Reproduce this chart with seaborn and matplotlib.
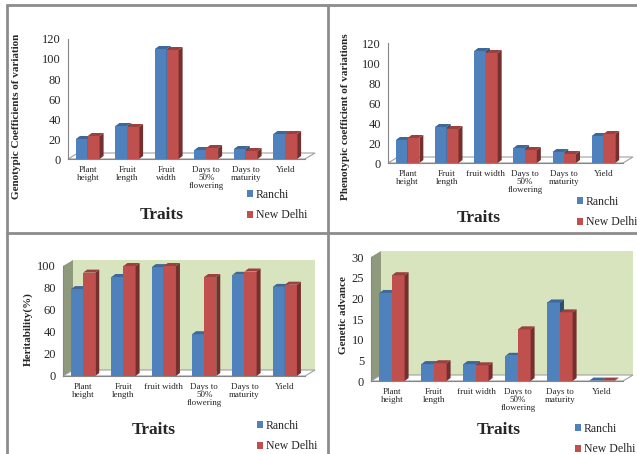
import numpy as np
import pandas as pd
import matplotlib
matplotlib.use("Agg")
import matplotlib.pyplot as plt
import seaborn as sns
import matplotlib.colors as mcolors
from matplotlib.patches import Polygon, Patch
from matplotlib.lines import Line2D

# data
locations = ["Ranchi", "New Delhi"]
traits_gcv = ["Plant\nheight", "Fruit\nlength", "Fruit\nwidth",
              "Days to\n50%\nflowering", "Days to\nmaturity", "Yield"]
traits = ["Plant\nheight", "Fruit\nlength", "fruit width",
          "Days to\n50%\nflowering", "Days to\nmaturity", "Yield"]

gcv_ranchi = [20, 33, 110, 9, 10, 25]
gcv_delhi = [23, 32, 109, 11, 8, 25]
pcv_ranchi = [23, 36, 112, 15, 11, 27]
pcv_delhi = [25, 34, 110, 13, 9, 29]
h2_ranchi = [79, 90, 99, 38, 92, 81]
h2_delhi = [94, 100, 100, 90, 95, 83]
ga_ranchi = [21.3, 4.1, 4.1, 6.1, 19.0, 0.1]
ga_delhi = [25.6, 4.3, 3.8, 12.5, 16.6, 0.1]

BLUE = "#4f81bd"
RED = "#c0504d"
palette = {"Ranchi": BLUE, "New Delhi": RED}
W, H = 637, 454
SERIF = "Liberation Serif"

sns.set_style("white")
plt.rcParams["font.family"] = [SERIF, "DejaVu Serif"]

fig = plt.figure(figsize=(W / 100, H / 100), dpi=100)


def shade(c, f):
    r, g, b = mcolors.to_rgb(c)
    return (r * f, g * f, b * f)


def px(x0, y0, x1, y1):
    # pixel box -> figure rect
    return [x0 / W, 1 - y1 / H, (x1 - x0) / W, (y1 - y0) / H]


def panel(rect, labels, ranchi, delhi, ymax, step, walls=False):
    ax = fig.add_axes(rect)
    df = pd.DataFrame({
        "trait": labels * 2,
        "location": ["Ranchi"] * len(labels) + ["New Delhi"] * len(labels),
        "value": ranchi + delhi,
    })
    sns.barplot(data=df, x="trait", y="value", hue="location", palette=palette,
                width=0.6, saturation=1, legend=False, linewidth=0, ax=ax)
    ax.set_xlim(-0.5, 5.5)
    ax.set_ylim(0, ymax)
    ax.patch.set_alpha(0)

    pos = ax.get_position()
    xpp = 6.0 / (pos.width * W)        # data x per pixel
    ypp = ymax / (pos.height * H)      # data y per pixel

    # depth faces for every bar
    bdx, bdy = 4 * xpp, 3 * ypp
    for bar in list(ax.patches):
        x, w, h = bar.get_x(), bar.get_width(), bar.get_height()
        fc = bar.get_facecolor()
        z = 3 if mcolors.to_hex(fc) == RED else 2
        bar.set_zorder(z)
        side = Polygon([(x + w, 0), (x + w + bdx, bdy), (x + w + bdx, h + bdy), (x + w, h)],
                       closed=True, fc=shade(fc, 0.6), ec="none", zorder=z, clip_on=False)
        top = Polygon([(x, h), (x + bdx, h + bdy), (x + w + bdx, h + bdy), (x + w, h)],
                      closed=True, fc=shade(fc, 0.8), ec="none", zorder=z, clip_on=False)
        ax.add_patch(side)
        ax.add_patch(top)

    # floor and walls
    fdx, fdy = 10 * xpp, 6 * ypp
    x0, x1 = -0.5, 5.5
    if walls:
        ax.add_patch(Polygon([(x0 + fdx, fdy), (x1 + fdx, fdy), (x1 + fdx, ymax + fdy), (x0 + fdx, ymax + fdy)],
                             closed=True, fc="#d7e4bd", ec="none", zorder=0.5, clip_on=False))
        ax.add_patch(Polygon([(x0, 0), (x0 + fdx, fdy), (x0 + fdx, ymax + fdy), (x0, ymax)],
                             closed=True, fc="#8f9a7c", ec="none", zorder=0.6, clip_on=False))
    ax.add_patch(Polygon([(x0, 0), (x1, 0), (x1 + fdx, fdy), (x0 + fdx, fdy)],
                         closed=True, fc="white", ec="#a0a0a0", lw=0.8, zorder=1, clip_on=False))

    sns.despine(ax=ax, top=True, right=True)
    for s in ("left", "bottom"):
        ax.spines[s].set_color("#868686")
        ax.spines[s].set_linewidth(0.8)
    ax.set_yticks(np.arange(0, ymax + 0.1, step))
    ax.tick_params(axis="y", labelsize=9, length=3, color="#868686", pad=2)
    ax.set_xticks(range(6))
    ax.set_xticklabels(labels, fontsize=6.5, linespacing=1.0)
    ax.set_xticks(np.arange(-0.5, 6, 1), minor=True)
    ax.tick_params(axis="x", which="major", length=0, pad=5)
    ax.tick_params(axis="x", which="minor", length=3, color="#868686")
    ax.set_xlabel("")
    ax.set_ylabel("")
    ax.grid(False)
    return ax


panel(px(68, 39, 305, 159), traits_gcv, gcv_ranchi, gcv_delhi, 120, 20)
panel(px(388, 43, 623, 163), traits, pcv_ranchi, pcv_delhi, 120, 20)
panel(px(63, 266, 305, 376), traits, h2_ranchi, h2_delhi, 100, 20, walls=True)
panel(px(371, 257, 623, 381), traits, ga_ranchi, ga_delhi, 30, 5, walls=True)

# axis titles
ylabels = [
    ("Genotypic Coefficients of variation", 17, 116),
    ("Phenotypic coefficient of variations", 346, 117),
    ("Heritability(%)", 28, 329),
    ("Genetic advance", 343, 315),
]
for text, x, y in ylabels:
    fig.text(x / W, 1 - y / H, text, rotation=90, ha="center", va="center",
             fontsize=8, fontweight="bold")

for x, y in [(162, 215), (479, 218), (154, 430), (499, 430)]:
    fig.text(x / W, 1 - y / H, "Traits", ha="center", va="center",
             fontsize=12.5, fontweight="bold")

# legends
handles = [Patch(fc=palette[l], ec="none") for l in locations]
for x, y in [(247, 189), (577, 196), (257, 420), (575, 423)]:
    fig.legend(handles, locations, loc="upper left", bbox_to_anchor=(x / W, 1 - y / H),
               frameon=False, fontsize=8.5, handlelength=0.55, handleheight=0.55,
               handletextpad=0.2, labelspacing=0.7, borderpad=0, borderaxespad=0)

# panel frame lines
frame = "#8c8c8c"
for xs, ys in [((7, 637), (5, 5)), ((7, 7), (5, 454)), ((7, 637), (233, 233)), ((328, 328), (5, 454))]:
    fig.add_artist(Line2D([v / W for v in xs], [1 - v / H for v in ys], color=frame, lw=2))

fig.savefig("out.png", dpi=100)
